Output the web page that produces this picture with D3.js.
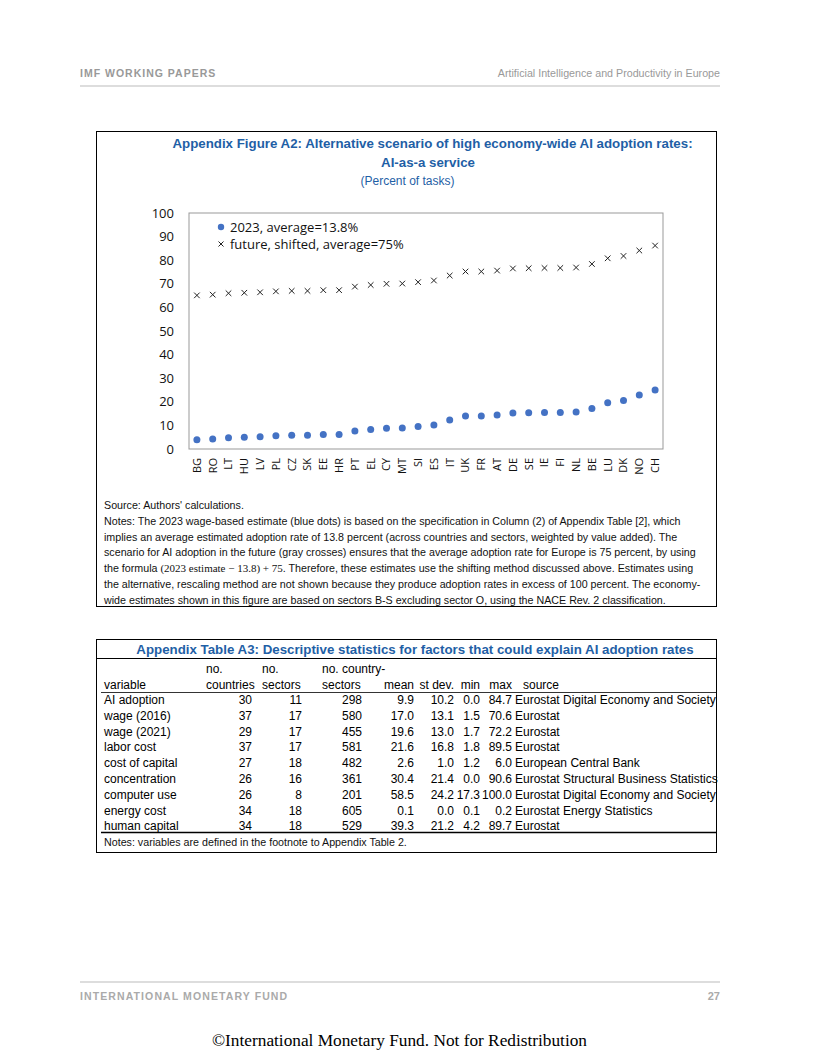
<!DOCTYPE html>
<html>
<head>
<meta charset="utf-8">
<script src="https://cdn.jsdelivr.net/npm/d3@7"></script>
<style>
  body { margin: 0; background: #fff; }
  svg text { font-family: "Liberation Sans", Arial, sans-serif; }
</style>
</head>
<body>
<div id="page"></div>
<script>
// chart data
var countries = ['BG','RO','LT','HU','LV','PL','CZ','SK','EE','HR','PT','EL','CY','MT','SI',
                 'ES','IT','UK','FR','AT','DE','SE','IE','FI','NL','BE','LU','DK','NO','CH'];
var adoption2023 = [3.9, 4.2, 4.8, 5.0, 5.2, 5.6, 5.8, 5.8, 6.1, 6.1, 7.6, 8.3, 8.8, 8.9, 9.5,
                    10.2, 12.3, 14.0, 14.0, 14.4, 15.3, 15.4, 15.5, 15.5, 15.7, 17.2, 19.6, 20.6, 22.9, 25.0];
var futureShifted = [65.1, 65.4, 66.0, 66.2, 66.4, 66.8, 67.0, 67.0, 67.3, 67.3, 68.8, 69.5, 70.0, 70.1, 70.7,
                     71.4, 73.5, 75.2, 75.2, 75.6, 76.5, 76.6, 76.7, 76.7, 76.9, 78.4, 80.8, 81.8, 84.1, 86.2];
var yTicks = [0, 10, 20, 30, 40, 50, 60, 70, 80, 90, 100];
var legendLabels = ['2023, average=13.8%', 'future, shifted, average=75%'];

// table data
var tableVariables = ['AI adoption','wage (2016)','wage (2021)','labor cost','cost of capital',
                      'concentration','computer use','energy cost','human capital'];
var tableCountries = [30, 37, 29, 37, 27, 26, 26, 34, 34];
var tableSectors = [11, 17, 17, 17, 18, 16, 8, 18, 18];
var tableCountrySectors = [298, 580, 455, 581, 482, 361, 201, 605, 529];
var tableMean = [9.9, 17.0, 19.6, 21.6, 2.6, 30.4, 58.5, 0.1, 39.3];
var tableStDev = [10.2, 13.1, 13.0, 16.8, 1.0, 21.4, 24.2, 0.0, 21.2];
var tableMin = [0.0, 1.5, 1.7, 1.8, 1.2, 0.0, 17.3, 0.1, 4.2];
var tableMax = [84.7, 70.6, 72.2, 89.5, 6.0, 90.6, 100.0, 0.2, 89.7];
var tableSource = ['Eurostat Digital Economy and Society','Eurostat','Eurostat','Eurostat',
                   'European Central Bank','Eurostat Structural Business Statistics',
                   'Eurostat Digital Economy and Society','Eurostat Energy Statistics','Eurostat'];

var blue = '#1f5fa6';
var W = 816, H = 1056;

var svg = d3.select('#page').append('svg')
    .attr('width', W)
    .attr('height', H);

// ---- page header / footer
svg.append('text').attr('x', 80).attr('y', 77)
    .style('font-size', '10.5px').style('font-weight', 'bold').attr('fill', '#999')
    .style('letter-spacing', '1px')
    .text('IMF WORKING PAPERS');
svg.append('text').attr('x', 720).attr('y', 77).attr('text-anchor', 'end')
    .style('font-size', '10.7px').attr('fill', '#999')
    .text('Artificial Intelligence and Productivity in Europe');
svg.append('line').attr('x1', 80).attr('x2', 720).attr('y1', 86).attr('y2', 86)
    .attr('stroke', '#bbb').attr('stroke-width', 1);

svg.append('line').attr('x1', 80).attr('x2', 720).attr('y1', 982).attr('y2', 982)
    .attr('stroke', '#bbb').attr('stroke-width', 1);
svg.append('text').attr('x', 80).attr('y', 1000)
    .style('font-size', '10.5px').style('font-weight', 'bold').attr('fill', '#aaa')
    .style('letter-spacing', '1.1px')
    .text('INTERNATIONAL MONETARY FUND');
svg.append('text').attr('x', 720).attr('y', 1000).attr('text-anchor', 'end')
    .style('font-size', '11px').style('font-weight', 'bold').attr('fill', '#aaa')
    .text('27');
svg.append('text').attr('x', 399.5).attr('y', 1046).attr('text-anchor', 'middle')
    .style('font-family', '"Liberation Serif", "Times New Roman", serif').style('font-size', '17.3px')
    .attr('fill', '#000')
    .text('\u00A9International Monetary Fund. Not for Redistribution');

// ---- figure box
svg.append('rect').attr('x', 96.5).attr('y', 131.5).attr('width', 620).attr('height', 475)
    .attr('fill', 'none').attr('stroke', '#000').attr('stroke-width', 1);

svg.append('text').attr('x', 432.5).attr('y', 148).attr('text-anchor', 'middle')
    .style('font-size', '13.3px').style('font-weight', 'bold').attr('fill', blue)
    .text('Appendix Figure A2: Alternative scenario of high economy-wide AI adoption rates:');
svg.append('text').attr('x', 428).attr('y', 167).attr('text-anchor', 'middle')
    .style('font-size', '13.3px').style('font-weight', 'bold').attr('fill', blue)
    .text('AI-as-a service');
svg.append('text').attr('x', 407.5).attr('y', 185).attr('text-anchor', 'middle')
    .style('font-size', '12px').attr('fill', blue)
    .text('(Percent of tasks)');

// ---- scatter chart
var plot = { left: 189, right: 663, top: 213, bottom: 449 };

var x = d3.scaleBand().domain(countries).range([plot.left, plot.right]);
var y = d3.scaleLinear().domain([0, 100]).range([plot.bottom, plot.top]);

svg.append('rect')
    .attr('x', plot.left).attr('y', plot.top)
    .attr('width', plot.right - plot.left).attr('height', plot.bottom - plot.top)
    .attr('fill', 'none').attr('stroke', '#999').attr('stroke-width', 1);

var yAxis = svg.append('g')
    .attr('transform', 'translate(' + plot.left + ',0)')
    .call(d3.axisLeft(y).tickValues(yTicks).tickSize(0).tickPadding(15));
yAxis.select('.domain').remove();
yAxis.selectAll('text')
    .style('font-family', '"Open Sans", "Noto Sans", sans-serif')
    .style('font-size', '13px').attr('fill', '#111');

var xAxis = svg.append('g')
    .attr('transform', 'translate(0,' + plot.bottom + ')')
    .call(d3.axisBottom(x).tickSize(0));
xAxis.select('.domain').remove();
xAxis.selectAll('text')
    .style('font-family', '"Open Sans", "Noto Sans", sans-serif')
    .style('font-size', '11px').attr('fill', '#111')
    .attr('transform', 'rotate(-90)')
    .attr('x', -9).attr('y', 0).attr('dy', '0.35em')
    .style('text-anchor', 'end');

function crossPath(s) {
  return 'M' + (-s) + ',' + (-s) + 'L' + s + ',' + s + 'M' + (-s) + ',' + s + 'L' + s + ',' + (-s);
}

svg.append('g').selectAll('path.future')
    .data(countries)
    .enter()
    .append('path')
    .attr('class', 'future')
    .attr('transform', function(d, i) {
      return 'translate(' + (x(d) + x.bandwidth() / 2) + ',' + y(futureShifted[i]) + ')';
    })
    .attr('d', crossPath(2.8))
    .attr('stroke', '#222').attr('stroke-width', 1).attr('fill', 'none');

svg.append('g').selectAll('circle.now')
    .data(countries)
    .enter()
    .append('circle')
    .attr('class', 'now')
    .attr('cx', function(d) { return x(d) + x.bandwidth() / 2; })
    .attr('cy', function(d, i) { return y(adoption2023[i]); })
    .attr('r', 3.5)
    .attr('fill', '#4472c4');

// legend
var legend = svg.append('g').attr('transform', 'translate(221,227)');
legend.append('circle').attr('cx', 0).attr('cy', 0).attr('r', 3.2).attr('fill', '#4472c4');
legend.append('path').attr('transform', 'translate(0,17)').attr('d', crossPath(2.5))
    .attr('stroke', '#222').attr('stroke-width', 1).attr('fill', 'none');
legend.selectAll('text')
    .data(legendLabels)
    .enter()
    .append('text')
    .attr('x', 9)
    .attr('y', function(d, i) { return i * 17; })
    .attr('dy', '0.35em')
    .style('font-family', '"Open Sans", "Noto Sans", sans-serif')
    .style('font-size', '13px').attr('fill', '#111')
    .text(function(d) { return d; });

// notes
var notes = [
  "Source: Authors' calculations.",
  'Notes: The 2023 wage-based estimate (blue dots) is based on the specification in Column (2) of Appendix Table [2], which',
  'implies an average estimated adoption rate of 13.8 percent (across countries and sectors, weighted by value added). The',
  'scenario for AI adoption in the future (gray crosses) ensures that the average adoption rate for Europe is 75 percent, by using',
  null,
  'the alternative, rescaling method are not shown because they produce adoption rates in excess of 100 percent. The economy-',
  'wide estimates shown in this figure are based on sectors B-S excluding sector O, using the NACE Rev. 2 classification.'
];
var noteG = svg.append('g');
notes.forEach(function(line, i) {
  var t = noteG.append('text').attr('x', 104).attr('y', 509 + i * 15.8)
      .style('font-size', '10.7px').attr('fill', '#111');
  if (line) {
    t.text(line);
  } else {
    t.append('tspan').text('the formula ');
    t.append('tspan').style('font-family', '"Liberation Serif", "DejaVu Serif", serif')
        .style('font-size', '11px').text('(2023 estimate \u2212 13.8) + 75');
    t.append('tspan').text('. Therefore, these estimates use the shifting method discussed above. Estimates using');
  }
});

// ---- table
var tb = { left: 96.5, top: 639.5, right: 716.5, bottom: 852.5 };
svg.append('rect').attr('x', tb.left).attr('y', tb.top)
    .attr('width', tb.right - tb.left).attr('height', tb.bottom - tb.top)
    .attr('fill', 'none').attr('stroke', '#000').attr('stroke-width', 1);
svg.append('text').attr('x', 415).attr('y', 653.5).attr('text-anchor', 'middle')
    .style('font-size', '13.3px').style('font-weight', 'bold').attr('fill', blue)
    .text('Appendix Table A3: Descriptive statistics for factors that could explain AI adoption rates');
svg.append('line').attr('x1', tb.left).attr('x2', tb.right).attr('y1', 658.5).attr('y2', 658.5)
    .attr('stroke', '#000').attr('stroke-width', 1);

// column layout: header text left-aligned at hx, values aligned at x
var cols = [
  { head: 'variable', head0: '', x: 104, anchor: 'start', hx: 104, vals: tableVariables },
  { head: 'countries', head0: 'no.', x: 252, anchor: 'end', hx: 206, vals: tableCountries },
  { head: 'sectors', head0: 'no.', x: 302, anchor: 'end', hx: 262, vals: tableSectors },
  { head: 'sectors', head0: 'no. country-', x: 362, anchor: 'end', hx: 322, vals: tableCountrySectors },
  { head: 'mean', head0: '', x: 414, anchor: 'end', vals: tableMean, f: '.1f' },
  { head: 'st dev.', head0: '', x: 454, anchor: 'end', vals: tableStDev, f: '.1f' },
  { head: 'min', head0: '', x: 480, anchor: 'end', vals: tableMin, f: '.1f' },
  { head: 'max', head0: '', x: 512, anchor: 'end', vals: tableMax, f: '.1f' },
  { head: 'source', head0: '', x: 515, anchor: 'start', hx: 523, vals: tableSource }
];

var tg = svg.append('g').style('font-size', '12px').attr('fill', '#000');
var rowY0 = 704, rowH = 15.8;

cols.forEach(function(c) {
  var h = tg.append('text').attr('y', 689).text(c.head);
  if (c.hx) { h.attr('x', c.hx).attr('text-anchor', 'start'); }
  else { h.attr('x', c.x).attr('text-anchor', c.anchor); }
  if (c.head0) {
    tg.append('text').attr('x', c.hx).attr('y', 673).text(c.head0);
  }
  var fmt = c.f ? d3.format(c.f) : function(v) { return v; };
  tg.selectAll(null)
    .data(c.vals)
    .enter()
    .append('text')
    .attr('x', c.x)
    .attr('y', function(d, i) { return rowY0 + i * rowH; })
    .attr('text-anchor', c.anchor)
    .text(function(d) { return fmt(d); });
});

svg.append('line').attr('x1', 101).attr('x2', tb.right).attr('y1', 692.5).attr('y2', 692.5)
    .attr('stroke', '#000').attr('stroke-width', 0.8);
svg.append('line').attr('x1', 101).attr('x2', tb.right).attr('y1', 832.5).attr('y2', 832.5)
    .attr('stroke', '#000').attr('stroke-width', 1.4);
svg.append('text').attr('x', 104).attr('y', 846)
    .style('font-size', '10.7px').attr('fill', '#111')
    .text('Notes: variables are defined in the footnote to Appendix Table 2.');
</script>
</body>
</html>
